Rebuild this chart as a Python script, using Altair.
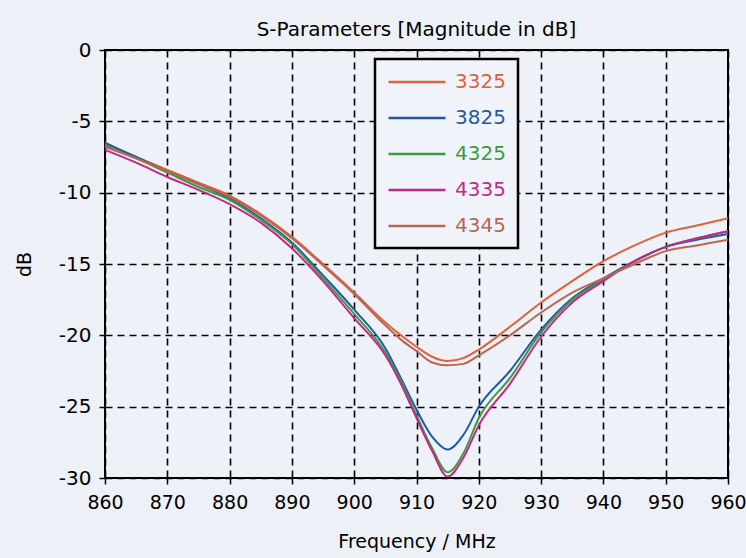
import altair as alt
import pandas as pd

freq = [860, 865, 870, 875, 880, 885, 890, 895, 900, 905, 907.5, 910, 912.5,
        915, 917.5, 920, 925, 930, 935, 940, 945, 950, 955, 960]

s3325 = [-6.6, -7.5, -8.4, -9.3, -10.2, -11.5, -13.1, -15.0, -17.0, -19.1, -20.0, -20.8, -21.5,
         -21.8, -21.6, -21.0, -19.4, -17.7, -16.2, -14.8, -13.7, -12.8, -12.3, -11.8]
s3825 = [-6.5, -7.5, -8.5, -9.4, -10.4, -11.8, -13.5, -15.8, -18.2, -20.9, -23.0, -25.2, -27.1,
         -28.0, -27.0, -25.0, -22.5, -19.6, -17.4, -16.0, -14.8, -13.8, -13.3, -12.9]
s4325 = [-6.7, -7.6, -8.6, -9.6, -10.5, -11.9, -13.6, -16.0, -18.5, -21.2, -23.2, -25.6, -27.9,
         -29.6, -28.3, -25.8, -23.0, -19.8, -17.5, -16.1, -14.8, -13.8, -13.2, -12.7]
s4335 = [-7.0, -7.9, -8.9, -9.8, -10.8, -12.1, -13.9, -16.2, -18.8, -21.4, -23.4, -25.8, -28.1,
         -29.9, -28.6, -26.3, -23.4, -20.1, -17.7, -16.2, -14.8, -13.8, -13.2, -12.7]
s4345 = [-6.8, -7.6, -8.5, -9.4, -10.3, -11.6, -13.2, -15.1, -17.1, -19.3, -20.3, -21.1, -21.9,
         -22.1, -22.0, -21.4, -20.0, -18.4, -17.0, -16.0, -15.0, -14.1, -13.7, -13.3]

series_names = ["3325", "3825", "4325", "4335", "4345"]
series_colors = ["#e2603a", "#1f5aa8", "#3e9a40", "#c4278a", "#bb6650"]
series_values = [s3325, s3825, s4325, s4335, s4345]

x_ticks = [860, 870, 880, 890, 900, 910, 920, 930, 940, 950, 960]
y_ticks = [0, -5, -10, -15, -20, -25, -30]

rows = []
for name, vals in zip(series_names, series_values):
    for f, v in zip(freq, vals):
        rows.append({"series": name, "freq": f, "db": v})
df = pd.DataFrame(rows)

FONT = "DejaVu Sans"

label_color_expr = " : ".join(
    [f"datum.label == '{n}' ? '{c}'" for n, c in zip(series_names, series_colors)]
) + " : 'black'"

chart = alt.Chart(df).mark_line(strokeWidth=2, interpolate="monotone").encode(
    x=alt.X("freq:Q",
            scale=alt.Scale(domain=[860, 960], nice=False, zero=False),
            axis=alt.Axis(values=x_ticks, title="Frequency / MHz",
                          labelExpr="toString(datum.value)", labelFlush=False,
                          grid=True, gridColor="black", gridDash=[7, 5], gridWidth=1.6,
                          domain=False, tickColor="black", tickSize=6, tickWidth=1.5,
                          labelFontSize=19, labelFont=FONT, labelColor="black",
                          labelPadding=9,
                          titleFontSize=19, titleFont=FONT, titleFontWeight="normal",
                          titleColor="black", titlePadding=20)),
    y=alt.Y("db:Q",
            scale=alt.Scale(domain=[-30, 0], nice=False, zero=False),
            axis=alt.Axis(values=y_ticks, title="dB",
                          labelExpr="toString(datum.value)", labelFlush=False,
                          grid=True, gridColor="black", gridDash=[7, 5], gridWidth=1.6,
                          domain=False, tickColor="black", tickSize=6, tickWidth=1.5,
                          labelFontSize=20, labelFont=FONT, labelColor="black",
                          labelPadding=8,
                          titleFontSize=19, titleFont=FONT, titleFontWeight="normal",
                          titleColor="black", titlePadding=24)),
    color=alt.Color("series:N",
                    scale=alt.Scale(domain=series_names, range=series_colors),
                    legend=alt.Legend(title=None, orient="none", legendX=270, legendY=9,
                                      symbolType="M-1,0H5", symbolStrokeWidth=2.5,
                                      symbolSize=361,
                                      labelFontSize=20, labelFont=FONT,
                                      labelColor={"expr": label_color_expr},
                                      labelOffset=46, rowPadding=15,
                                      padding=12, strokeColor="black",
                                      fillColor="#f1f3fa")),
    order=alt.Order("series:N"),
).properties(
    width=623,
    height=428,
    title=alt.TitleParams("S-Parameters [Magnitude in dB]", fontSize=20, font=FONT,
                          fontWeight="normal", color="black", offset=0, anchor="middle"),
    autosize=alt.AutoSizeParams(type="none"),
    padding={"left": 105, "top": 50, "right": 18, "bottom": 80},
    background="#eef0f8",
).configure_view(
    stroke="black", strokeWidth=2, fill="#eff1f9"
).configure_legend(
    strokeWidth=2.5
)

chart.save("out.html", embed_options={"renderer": "svg", "actions": False})
